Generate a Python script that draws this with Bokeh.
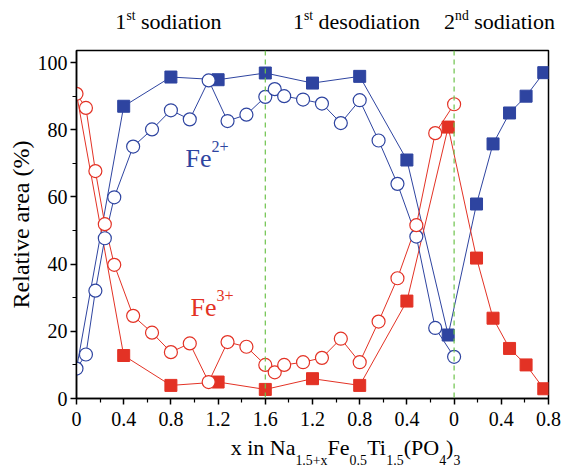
from bokeh.plotting import figure
from bokeh.models import FixedTicker, Label, Span, Range1d, LinearAxis
from bokeh.embed import file_html
from bokeh.resources import INLINE

# ---------------- data ----------------
# continuous x coordinate: 0-1.6 (1st sodiation), 1.6-3.2 (1st desodiation), 3.2-4.0 (2nd sodiation)
x_filled = [0.0, 0.4, 0.8, 1.2, 1.6, 2.0, 2.4, 2.8, 3.15, 3.39, 3.53, 3.67, 3.81, 3.96]
fe2_filled = [8.9, 87.0, 95.7, 94.9, 96.9, 93.9, 95.9, 71.0, 18.9, 57.9, 75.8, 85.0, 90.0, 97.0]
fe3_filled = [90.7, 12.8, 3.9, 4.9, 2.7, 5.9, 3.9, 29.0, 80.8, 41.8, 23.9, 14.9, 10.0, 2.9]

x_open = [0.0, 0.08, 0.16, 0.24, 0.32, 0.48, 0.64, 0.80, 0.96, 1.12, 1.28, 1.44,
          1.60, 1.68, 1.76, 1.92, 2.08, 2.24, 2.40, 2.56, 2.72, 2.88, 3.04, 3.20]
fe2_open = [8.9, 13.1, 32.1, 47.7, 59.9, 75.0, 80.1, 85.8, 83.1, 94.7, 82.6, 84.5,
            89.8, 92.1, 90.0, 89.0, 87.8, 82.0, 88.8, 76.8, 63.9, 48.2, 21.0, 12.4]
fe3_open = [90.7, 86.5, 67.7, 51.9, 39.8, 24.6, 19.6, 13.8, 16.4, 4.9, 16.8, 15.4,
            10.0, 7.8, 10.0, 10.8, 12.1, 17.8, 10.8, 22.9, 35.8, 51.6, 79.0, 87.6]

x_ticks = [0.0, 0.4, 0.8, 1.2, 1.6, 2.0, 2.4, 2.8, 3.2, 3.6, 4.0]
x_tick_labels = ["0", "0.4", "0.8", "1.2", "1.6", "1.2", "0.8", "0.4", "0", "0.4", "0.8"]
x_minor = [0.2, 0.6, 1.0, 1.4, 1.8, 2.2, 2.6, 3.0, 3.4, 3.8]
y_ticks = [0, 20, 40, 60, 80, 100]
y_minor = [10, 30, 50, 70, 90]
phase_bounds = [1.6, 3.2]

# ---------------- style / layout ----------------
BLUE = "#2e44a0"
RED = "#e33225"
GREEN = "#6cc24a"
FONT = "Liberation Serif"

W, H = 562, 473
L, R, T, B = 76, 14, 50, 75
X0, X1 = 0.0, 4.0
Y0, Y1 = 0.0, 103.6

p = figure(width=W, height=H, x_range=Range1d(X0, X1), y_range=Range1d(Y0, Y1),
           output_backend="svg", toolbar_location=None,
           min_border_left=L, min_border_right=R, min_border_top=T, min_border_bottom=B)
p.grid.visible = False
p.outline_line_color = "black"
p.outline_line_width = 1.5
p.background_fill_color = "white"
p.border_fill_color = "white"

for ax in (p.xaxis[0], p.yaxis[0]):
    ax.axis_line_width = 1.5
    ax.major_tick_line_width = 1.5
    ax.minor_tick_line_width = 1.2
    ax.major_tick_out = 6
    ax.major_tick_in = 0
    ax.minor_tick_out = 4
    ax.minor_tick_in = 0
    ax.major_label_text_font = FONT
    ax.major_label_text_font_size = "20px"
    ax.major_label_text_color = "black"

xa = p.xaxis[0]
xa.ticker = FixedTicker(ticks=x_ticks, minor_ticks=x_minor)
xa.major_label_overrides = {t: s for t, s in zip(x_ticks, x_tick_labels)}
xa.major_label_standoff = 7

ya = p.yaxis[0]
ya.ticker = FixedTicker(ticks=y_ticks, minor_ticks=y_minor)
ya.major_label_standoff = 3
ya.axis_label = "Relative area (%)"
ya.axis_label_text_font = FONT
ya.axis_label_text_font_size = "24px"
ya.axis_label_text_font_style = "normal"
ya.axis_label_text_color = "black"
ya.axis_label_standoff = 1

for b in phase_bounds:
    p.add_layout(Span(location=b, dimension="height", line_color=GREEN,
                      line_width=1.2, line_dash="5 4"))

# lines
p.line(x_filled, fe2_filled, line_color=BLUE, line_width=1)
p.line(x_filled, fe3_filled, line_color=RED, line_width=1)
p.line(x_open, fe2_open, line_color=BLUE, line_width=1)
p.line(x_open, fe3_open, line_color=RED, line_width=1)

# markers
p.scatter(x_filled[1:], fe2_filled[1:], marker="square", size=12,
          fill_color=BLUE, line_color=BLUE)
p.scatter(x_filled[1:], fe3_filled[1:], marker="square", size=12,
          fill_color=RED, line_color=RED)
p.scatter(x_open, fe2_open, marker="circle", size=13, fill_color="white",
          line_color=BLUE, line_width=1.2)
p.scatter(x_open, fe3_open, marker="circle", size=13, fill_color="white",
          line_color=RED, line_width=1.2)

# ---------------- rich text helpers ----------------
ADV = {' ': 250, '(': 333, ')': 333, '+': 564, '.': 250, '%': 833,
       'F': 556, 'N': 722, 'O': 722, 'P': 556, 'T': 611, 'R': 667,
       'a': 444, 'd': 500, 'e': 444, 'i': 278, 'n': 500, 'o': 500, 'r': 333,
       's': 389, 't': 278, 'x': 500, 'l': 278, 'v': 500}


def tw(s, size):
    return sum(ADV.get(c, 500) for c in s) / 1000.0 * size


def xd(px):
    return X0 + (px - L) / (W - L - R) * (X1 - X0)


def yd(py):
    return Y0 + (H - B - py) / (H - T - B) * (Y1 - Y0)


def layout_pieces(pieces, px, size, small, anchor):
    """Return (center_px, text, kind) for each piece of a rich string."""
    total = sum(tw(t, size if k == "n" else size * small) for t, k in pieces)
    if anchor == "center":
        px -= total / 2.0
    out = []
    for t, k in pieces:
        fs = size if k == "n" else size * small
        s = t.lstrip(" ")
        px += tw(t[:len(t) - len(s)], fs)
        w = tw(s, fs)
        out.append((px + w / 2.0, s, k))
        px += w
    return out


def text_axis(side, items, size, standoff):
    ticks = [xd(c) for c, _, _ in items]
    ax = LinearAxis(ticker=FixedTicker(ticks=ticks, minor_ticks=[]),
                    major_label_overrides={t: s for t, (_, s, _) in zip(ticks, items)},
                    axis_line_color=None, major_tick_line_color=None,
                    minor_tick_line_color=None, major_tick_out=0, major_tick_in=0,
                    major_label_standoff=standoff, major_label_text_font=FONT,
                    major_label_text_font_size=f"{size:.1f}px",
                    major_label_text_color="black")
    p.add_layout(ax, side)
    return ax


# phase titles above the frame (main text axis, then superscript axis outside it)
TSIZE, TSMALL = 22, 0.62
titles = []
for pieces, cx in (([("1", "n"), ("st", "sup"), (" sodiation", "n")], 168),
                   ([("1", "n"), ("st", "sup"), (" desodiation", "n")], 356),
                   ([("2", "n"), ("nd", "sup"), (" sodiation", "n")], 499)):
    titles += layout_pieces(pieces, cx, TSIZE, TSMALL, "center")
text_axis("above", [it for it in titles if it[2] == "n"], TSIZE, 17)
text_axis("above", [it for it in titles if it[2] == "sup"], TSIZE * TSMALL, -17)

# x-axis title below the tick labels (main text axis, then subscript axis)
XSIZE, XSMALL = 22, 0.63
xtitle = layout_pieces([("x in Na", "n"), ("1.5+x", "sub"), ("Fe", "n"), ("0.5", "sub"),
                        ("Ti", "n"), ("1.5", "sub"), ("(PO", "n"), ("4", "sub"),
                        (")", "n"), ("3", "sub")], 345, XSIZE, XSMALL, "center")
text_axis("below", [it for it in xtitle if it[2] == "n"], XSIZE, 6)
text_axis("below", [it for it in xtitle if it[2] == "sub"], XSIZE * XSMALL, -10)

# ion labels inside the frame
for pieces, px, py, col in (([("Fe", "n"), ("2+", "sup")], 185, 158, BLUE),
                            ([("Fe", "n"), ("3+", "sup")], 190, 307, RED)):
    size = 26
    for c, s, k in layout_pieces(pieces, px, size, 0.62, "left"):
        fs = size if k == "n" else size * 0.62
        off = 0 if k == "n" else 0.45 * size
        p.add_layout(Label(x=xd(c), y=yd(py - off), text=s, text_font=FONT,
                           text_font_size=f"{fs:.1f}px", text_color=col,
                           text_baseline="alphabetic", text_align="center"))

open("out.html", "w").write(file_html(p, INLINE))
